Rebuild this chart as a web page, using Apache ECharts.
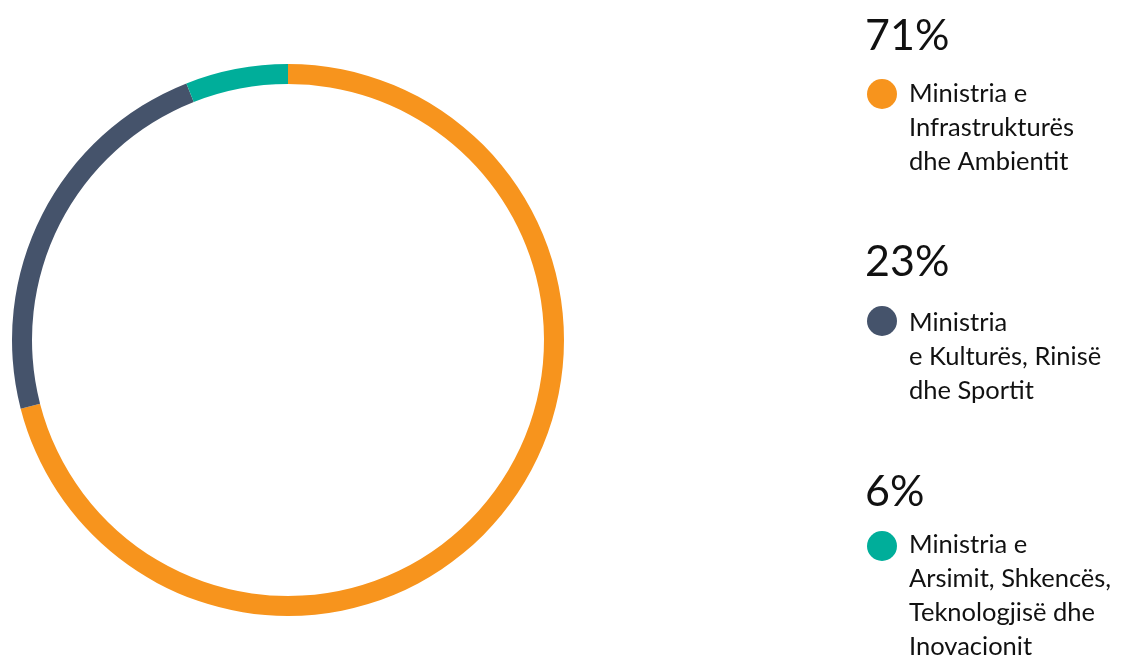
<!DOCTYPE html>
<html>
<head>
<meta charset="utf-8">
<script src="https://cdn.jsdelivr.net/npm/echarts@6/dist/echarts.min.js"></script>
<style>
html,body{margin:0;padding:0;background:#fff;}
#chart{width:1121px;height:659px;}
</style>
</head>
<body>
<div id="chart"></div>
<script>
const categories = [
  'Ministria e Infrastrukturës dhe Ambientit',
  'Ministria e Kulturës, Rinisë dhe Sportit',
  'Ministria e Arsimit, Shkencës, Teknologjisë dhe Inovacionit'
];
const labelLines = [
  ['Ministria e', 'Infrastrukturës', 'dhe Ambientit'],
  ['Ministria', 'e Kulturës, Rinisë', 'dhe Sportit'],
  ['Ministria e', 'Arsimit, Shkencës,', 'Teknologjisë dhe', 'Inovacionit']
];
const values = [71, 23, 6];
const colors = ['#F7941D', '#45536B', '#00AE9A'];

const chart = echarts.init(document.getElementById('chart'), null, {renderer: 'canvas'});

const pctTops = [15, 241, 471];
const markerYs = [94, 321, 546];
const labelTops = [77, 306, 528];
const graphics = [];
values.forEach((v, i) => {
  graphics.push({
    type: 'text', left: 865, top: pctTops[i],
    style: {text: v + '%', font: '400 43px Lato', fill: '#111'}
  });
  graphics.push({
    type: 'circle', shape: {cx: 882, cy: markerYs[i], r: 15},
    style: {fill: colors[i]}
  });
  graphics.push({
    type: 'text', left: 909, top: labelTops[i],
    style: {text: labelLines[i].join('\n'), font: '400 25.5px Lato', lineHeight: 34, fill: '#111'}
  });
});

chart.setOption({
  animation: false,
  backgroundColor: '#fff',
  series: [{
    type: 'pie',
    center: [288, 340],
    radius: [256, 276],
    startAngle: 90,
    clockwise: true,
    label: {show: false},
    labelLine: {show: false},
    itemStyle: {borderWidth: 0},
    emphasis: {disabled: true},
    data: categories.map((c, i) => ({name: c, value: values[i], itemStyle: {color: colors[i]}}))
  }],
  graphic: graphics
});
</script>
</body>
</html>
